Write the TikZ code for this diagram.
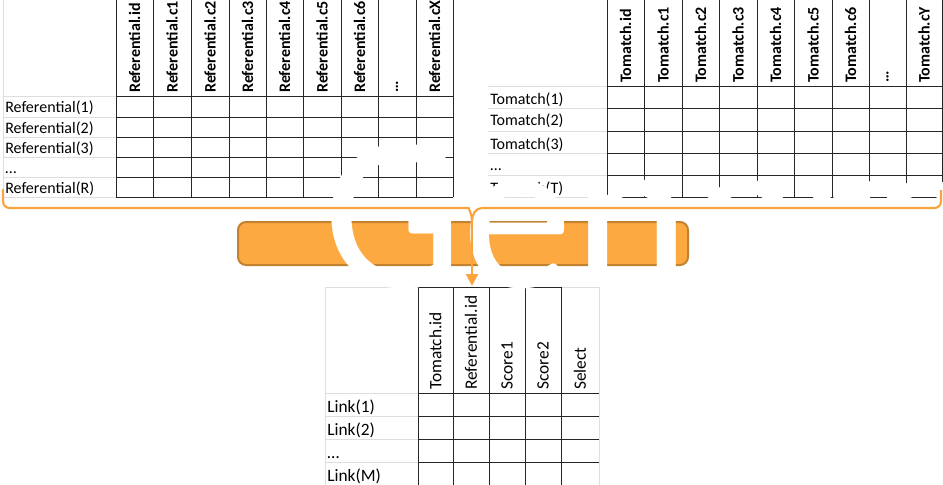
\documentclass[tikz,border=0pt]{standalone}
\usepackage{fontspec}
\setmainfont{Carlito}
\usetikzlibrary{arrows.meta}

\definecolor{procfill}{HTML}{FDA942}
\definecolor{procdraw}{HTML}{C2822F}
\definecolor{braceorange}{HTML}{F9A43D}

\begin{document}
\begin{tikzpicture}[x=0.75pt,y=-0.75pt,
    tabline/.style = {draw=black!85, line width=0.7pt},
    lightline/.style = {draw=black!13, line width=0.7pt},
    rowlabel/.style = {anchor=base west, inner sep=0pt, font=\fontsize{12}{14}\selectfont},
    colhead/.style = {anchor=west, rotate=90, inner sep=0pt, font=\bfseries\fontsize{12}{14}\selectfont},
    linklabel/.style = {anchor=base west, inner sep=0pt, font=\fontsize{13}{15}\selectfont},
    linkhead/.style = {anchor=west, rotate=90, inner sep=0pt, font=\fontsize{13}{15}\selectfont},
    procbox/.style = {draw=procdraw, fill=procfill, line width=1.5pt, rounded corners=6pt},
    bigword/.style = {anchor=base west, inner sep=0pt, text=white, font=\fontsize{166}{166}\selectfont},
    brace/.style = {draw=braceorange, line width=1.6pt},
    flow/.style = {draw=braceorange, line width=1.5pt, -{Triangle[length=9pt,width=9pt]}}]
    \useasboundingbox (0,0) rectangle (943,485);

    % Referential table
    \draw[lightline] (3,0) -- (3,197);
    \foreach \y in {96,117,137,157,177,197} {
        \draw[lightline] (3,\y) -- (116,\y);
        \draw[tabline] (116,\y) -- (453,\y);
    }
    \foreach \x in {116,153,191,229,266,303,341,378,416,453}
        \draw[tabline] (\x,0) -- (\x,197);
    \foreach \x/\t [count=\i] in {134.5/Referential.id, 172/Referential.c1, 210/Referential.c2,
        247.5/Referential.c3, 284.5/Referential.c4, 322/Referential.c5, 359.5/Referential.c6,
        397/…, 434.5/Referential.cX}
        \node[colhead] (refhead\i) at (\x,93) {\t};
    \foreach \y/\t [count=\i] in {113/Referential(1), 133/Referential(2), 153/Referential(3),
        173/…, 193/Referential(R)}
        \node[rowlabel] (refrow\i) at (5,\y) {\t};

    % Tomatch table
    \foreach \y in {86,108,131,153,175,197} {
        \draw[lightline] (488,\y) -- (607,\y);
        \draw[tabline] (607,\y) -- (942,\y);
    }
    \foreach \x in {607,644,682,719,757,794,832,869,906,942}
        \draw[tabline] (\x,0) -- (\x,197);
    \foreach \x/\t [count=\i] in {625.5/Tomatch.id, 663/Tomatch.c1, 700.5/Tomatch.c2,
        738/Tomatch.c3, 775.5/Tomatch.c4, 813/Tomatch.c5, 850.5/Tomatch.c6,
        887.5/…, 924/Tomatch.cY}
        \node[colhead] (tomhead\i) at (\x,83) {\t};
    \foreach \y/\t [count=\i] in {104/Tomatch(1), 126/Tomatch(2), 149/Tomatch(3),
        171/…, 193/Tomatch(T)}
        \node[rowlabel] (tomrow\i) at (490,\y) {\t};

    % Link table
    \draw[lightline] (325,287) -- (418,287);
    \draw[lightline] (325,287) -- (325,485);
    \draw[tabline] (418,287) -- (561,287);
    \draw[lightline] (561,287) -- (599,287) -- (599,485);
    \foreach \y in {393,416,439,462} {
        \draw[lightline] (325,\y) -- (418,\y);
        \draw[tabline] (418,\y) -- (599,\y);
    }
    \foreach \x in {418,453,489,525,561}
        \draw[tabline] (\x,287) -- (\x,485);
    \foreach \x/\t [count=\i] in {435.5/Tomatch.id, 471/Referential.id, 507/Score1,
        543/Score2, 580/Select}
        \node[linkhead] (linkhead\i) at (\x,390) {\t};
    \foreach \y/\t [count=\i] in {412/Link(1), 435/Link(2), 458/…, 481/Link(M)}
        \node[linklabel] (linkrow\i) at (327,\y) {\t};

    % process step
    \draw[procbox] (238,222) rectangle (688,265);
    \node[bigword] (word) at (323,287) {Generate};

    % brace and arrow
    \coordinate (tip) at (472,221);
    \coordinate (linktop) at (472,286);
    \draw[brace] (3,189) [rounded corners=5pt] -- (3,208) -- (462,208) [sharp corners]
        to[out=0,in=90] (tip) to[out=90,in=180] (482,208)
        [rounded corners=5pt] -- (941,208) -- (941,190);
    \draw[flow] (tip) -- (linktop);
\end{tikzpicture}
\end{document}
